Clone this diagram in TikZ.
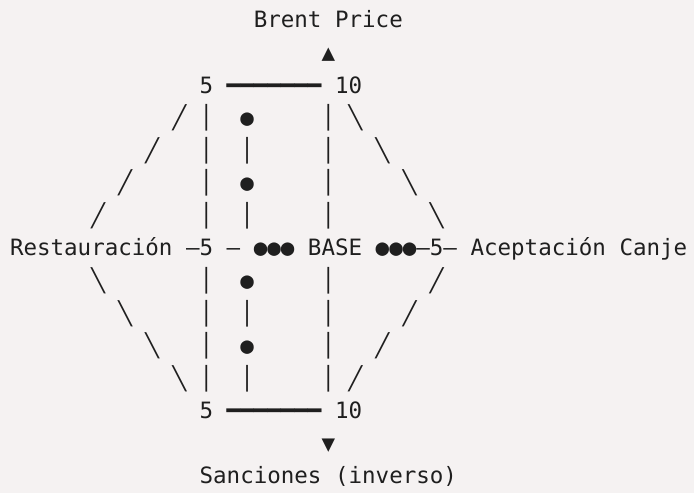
\documentclass[tikz,border=0pt]{standalone}
\usepackage{fontspec}
\setmonofont{DejaVu Sans Mono}
\definecolor{bg}{HTML}{F5F2F2}
\definecolor{ink}{HTML}{1F1F1F}
\newcommand{\cw}{13.545}
\newcommand{\T}[4]{\node[txt] (#1) at ({10+\cw*#2},{493-28-32.57*#3}) {#4};}
\tikzset{txt/.style={anchor=base west, inner sep=0pt, outer sep=0pt, text=ink, font=\ttfamily\fontsize{22.5}{27}\selectfont}}
\begin{document}
\begin{tikzpicture}[x=1pt,y=1pt]
\fill[bg] (0,0) rectangle (694,493);
\useasboundingbox (0,0) rectangle (694,493);
% row 0
\T{brent}{18}{0}{Brent Price}
\T{up}{23}{1}{▲}
% row 2
\T{tl}{14}{2}{5}
\T{tbar}{16}{2}{━━━━━━━}
\T{tr}{24}{2}{10}
% rows 3-6
\T{a3}{12}{3}{╱}  \T{b3}{14}{3}{│} \T{c3}{17}{3}{●} \T{d3}{23}{3}{│} \T{e3}{25}{3}{╲}
\T{a4}{10}{4}{╱}  \T{b4}{14}{4}{│} \T{c4}{17}{4}{│} \T{d4}{23}{4}{│} \T{e4}{27}{4}{╲}
\T{a5}{8}{5}{╱}   \T{b5}{14}{5}{│} \T{c5}{17}{5}{●} \T{d5}{23}{5}{│} \T{e5}{29}{5}{╲}
\T{a6}{6}{6}{╱}   \T{b6}{14}{6}{│} \T{c6}{17}{6}{│} \T{d6}{23}{6}{│} \T{e6}{31}{6}{╲}
% row 7
\T{rest}{0}{7}{Restauración}
\T{l5}{13}{7}{—5}
\T{ld}{16}{7}{—}
\T{ldots}{18}{7}{●●●}
\T{base}{22}{7}{BASE}
\T{rdots}{27}{7}{●●●—5—}
\T{acep}{34}{7}{Aceptación}
\T{canje}{45}{7}{Canje}
% rows 8-11
\T{a8}{6}{8}{╲}   \T{b8}{14}{8}{│}  \T{c8}{17}{8}{●}  \T{d8}{23}{8}{│}  \T{e8}{31}{8}{╱}
\T{a9}{8}{9}{╲}   \T{b9}{14}{9}{│}  \T{c9}{17}{9}{│}  \T{d9}{23}{9}{│}  \T{e9}{29}{9}{╱}
\T{a10}{10}{10}{╲} \T{b10}{14}{10}{│} \T{c10}{17}{10}{●} \T{d10}{23}{10}{│} \T{e10}{27}{10}{╱}
\T{a11}{12}{11}{╲} \T{b11}{14}{11}{│} \T{c11}{17}{11}{│} \T{d11}{23}{11}{│} \T{e11}{25}{11}{╱}
% row 12
\T{bl}{14}{12}{5}
\T{bbar}{16}{12}{━━━━━━━}
\T{br}{24}{12}{10}
\T{down}{23}{13}{▼}
\T{sanc}{14}{14}{Sanciones (inverso)}
\end{tikzpicture}
\end{document}
